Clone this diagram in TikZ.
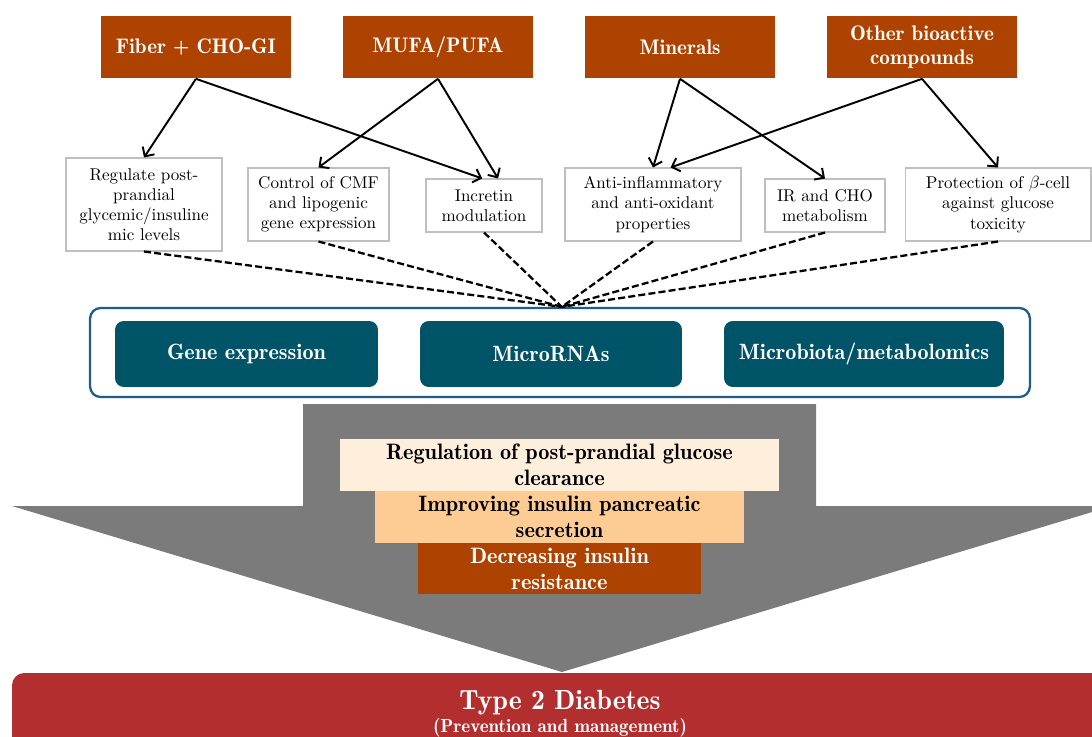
\documentclass[tikz,border=0pt]{standalone}
\usepackage{amsmath}
\usetikzlibrary{arrows.meta}

\definecolor{rust}{HTML}{AE4200}
\definecolor{petrol}{HTML}{005468}
\definecolor{frameblue}{HTML}{1F5C8E}
\definecolor{boxgray}{HTML}{BFBFBF}
\definecolor{arrowgray}{HTML}{7B7B7B}
\definecolor{peachlight}{HTML}{FDEFDC}
\definecolor{peach}{HTML}{FDCC94}
\definecolor{diabred}{HTML}{B22E2F}

\begin{document}
\begin{tikzpicture}[x=0.02cm, y=-0.02cm,
		top_style/.style={rectangle,fill=rust,text=white,align=center,inner sep=0pt,
			minimum width=3.8cm,minimum height=1.26cm,font=\fontsize{12}{13.8}\fontseries{b}\selectfont},
		effect_style/.style={rectangle,draw=boxgray,line width=0.6pt,fill=white,align=center,
			inner sep=0pt,font=\fontsize{9.7}{11.5}\selectfont},
		omics_style/.style={rectangle,rounded corners=5pt,fill=petrol,text=white,
			minimum height=1.32cm,font=\fontsize{12.6}{14}\fontseries{b}\selectfont},
		layer_style/.style={rectangle,align=center,inner sep=0pt,minimum height=1.04cm,
			font=\fontsize{12.7}{14.6}\fontseries{b}\selectfont},
		edge_style/.style={draw=black,line width=1.1pt,-{Straight Barb[length=4pt,width=8pt]}},
		link_style/.style={draw=black,line width=1.3pt,dash pattern=on 4pt off 1.8pt}]

		\useasboundingbox (0,0) rectangle (1092,737);

		% nutrients
		\node[top_style] (t1) at (196,47) {Fiber + CHO-GI};
		\node[top_style] (t2) at (438,47) {MUFA/PUFA};
		\node[top_style] (t3) at (680,47) {Minerals};
		\node[top_style] (t4) at (922,47) {Other bioactive\\compounds};

		% effects
		\node[effect_style,text width=3.12cm,minimum height=1.86cm] (r1) at (144,204.5) {Regulate post-\\prandial\\glycemic/insuline\\mic levels};
		\node[effect_style,text width=2.82cm,minimum height=1.46cm] (r2) at (318.5,204.5) {Control of CMF\\and lipogenic\\gene expression};
		\node[effect_style,text width=2.32cm,minimum height=1.06cm] (r3) at (484,205.5) {Incretin\\modulation};
		\node[effect_style,text width=3.52cm,minimum height=1.46cm] (r4) at (653,204.5) {Anti-inflammatory\\and anti-oxidant\\properties};
		\node[effect_style,text width=2.4cm,minimum height=1.06cm] (r5) at (825,205.5) {IR and CHO\\metabolism};
		\node[effect_style,text width=3.72cm,minimum height=1.46cm] (r6) at (998,204.5) {Protection of $\beta$-cell\\against glucose\\toxicity};

		\draw[edge_style] (t1.south) -- (r1.north);
		\draw[edge_style] (t1.south) -- ([xshift=-1pt]r3.north);
		\draw[edge_style] (t2.south) -- (r2.north);
		\draw[edge_style] (t2.south) -- ([xshift=8pt]r3.north);
		\draw[edge_style] (t3.south) -- (r4.north);
		\draw[edge_style] (t3.south) -- (r5.north);
		\draw[edge_style] (t4.south) -- ([xshift=10pt]r4.north);
		\draw[edge_style] (t4.south) -- (r6.north);

		% omics frame
		\node[rectangle,rounded corners=6pt,draw=frameblue,line width=1.3pt,
			minimum width=18.8cm,minimum height=1.78cm] (frame) at (560,352.5) {};
		\node[omics_style,minimum width=5.26cm] (m1) at (246.5,354) {Gene expression};
		\node[omics_style,minimum width=5.24cm] (m2) at (551,354) {MicroRNAs};
		\node[omics_style,minimum width=5.6cm] (m3) at (864,354) {Microbiota/metabolomics};

		\foreach \n in {r1,r2,r3,r4,r5,r6}
			\draw[link_style] (\n.south) -- ([xshift=1pt]frame.north);

		% big arrow
		\fill[arrowgray] (303,404) -- (816,404) -- (816,506) -- (1112,506) -- (562,672)
			-- (12,506) -- (303,506) -- cycle;

		\node[layer_style,fill=peachlight,minimum width=8.78cm] (s1) at (559.5,465) {Regulation of post-prandial glucose\\clearance};
		\node[layer_style,fill=peach,minimum width=7.38cm] (s2) at (559.5,517) {Improving insulin pancreatic\\secretion};
		\node[layer_style,fill=rust,text=white,minimum width=5.66cm,minimum height=1.02cm] (s3) at (559.5,568.5) {Decreasing insulin\\resistance};

		% outcome
		\fill[diabred,rounded corners=7pt] (12,673) rectangle (1112,800);
		\node[text=white,align=center,font=\fontseries{b}\selectfont] (t2d) at (560,714)
			{{\fontsize{15.8}{17}\selectfont Type 2 Diabetes}\\[1pt]{\fontsize{10.8}{12}\selectfont (Prevention and management)}};
\end{tikzpicture}
\end{document}
